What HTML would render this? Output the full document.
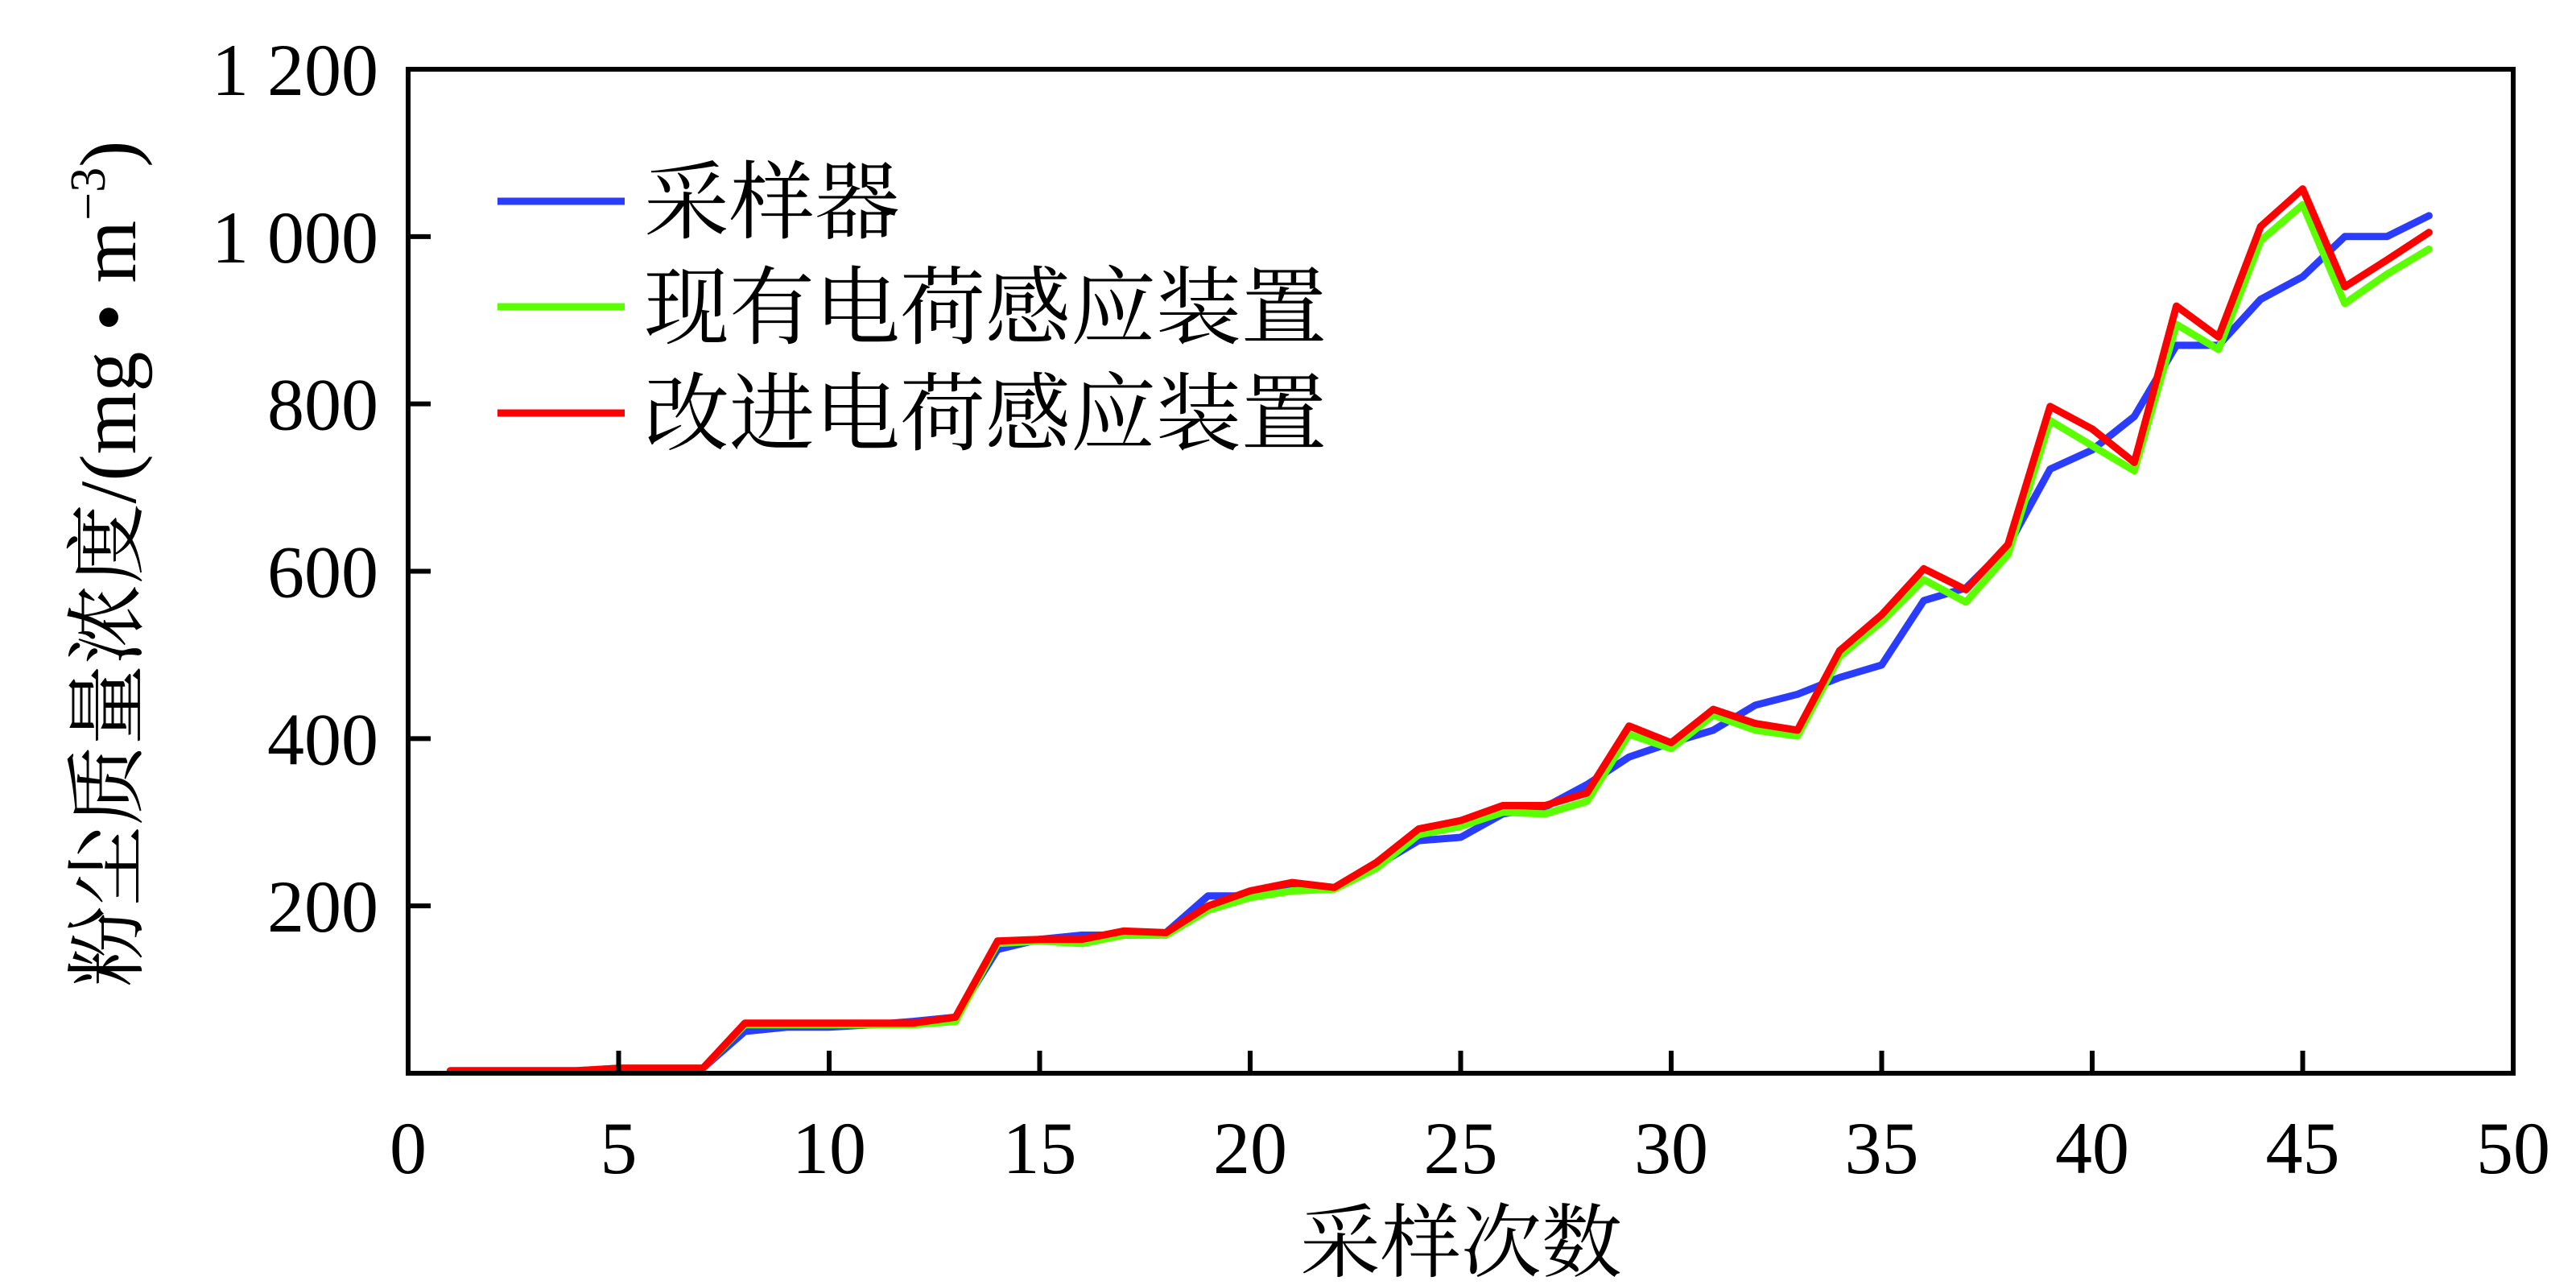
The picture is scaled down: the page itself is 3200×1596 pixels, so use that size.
<!DOCTYPE html>
<html><head><meta charset="utf-8"><style>
html,body{margin:0;padding:0;background:#fff}
svg{display:block}
text{font-family:"Liberation Serif","Noto Serif CJK SC","Noto Sans CJK SC",serif;fill:#000}
</style></head><body>
<svg id="chart" width="3200" height="1596" viewBox="0 0 3200 1596" xmlns="http://www.w3.org/2000/svg"></svg>
<script>
const xValues=[1,2,3,4,5,6,7,8,9,10,11,12,13,14,15,16,17,18,19,20,21,22,23,24,25,26,27,28,29,30,31,32,33,34,35,36,37,38,39,40,41,42,43,44,45,46,47,48];
const samplerValues=[3,3,3,3,6,6,6,50,55,55,58,62,67,148,160,165,165,168,212,212,222,222,248,278,282,310,318,345,378,395,410,440,453,473,488,565,580,630,722,745,785,870,870,925,952,1000,1000,1025];
const existingValues=[3,3,3,3,6,6,6,58,58,58,58,58,62,155,158,155,165,165,195,210,218,220,245,285,295,312,310,325,405,388,428,410,403,498,540,590,563,620,780,750,720,895,865,995,1038,920,955,985];
const improvedValues=[3,3,3,3,6,6,6,60,60,60,60,60,67,158,160,160,170,168,200,218,228,222,252,292,302,320,320,335,415,395,435,418,410,505,548,603,578,632,797,770,730,917,880,1012,1057,940,972,1005];
const xTicks=[0,5,10,15,20,25,30,35,40,45,50];
const yTicks=[200,400,600,800,1000];
const yTickLabels=["200","400","600","800","1 000"];
const seriesNames=["采样器","现有电荷感应装置","改进电荷感应装置"];
const seriesColors=["#2a3cff","#5cff00","#ff0000"];

const svg=document.getElementById('chart');
const NS='http://www.w3.org/2000/svg';
const L=507,R=3122,T=86,B=1333;
const xMin=0,xMax=50,yMin=0,yMax=1200;
function sx(v){return L+(v-xMin)/(xMax-xMin)*(R-L);}
function sy(v){return B-(v-yMin)/(yMax-yMin)*(B-T);}
function mk(tag,attrs,parent){const e=document.createElementNS(NS,tag);for(const k in attrs)e.setAttribute(k,attrs[k]);(parent||svg).appendChild(e);return e;}

// series
const allSeries=[samplerValues,existingValues,improvedValues];
const seriesKeys=['sampler-line','existing-device-line','improved-device-line'];
allSeries.forEach((vals,i)=>{
  const d=vals.map((v,j)=>(j?'L':'M')+sx(xValues[j]).toFixed(1)+' '+sy(v).toFixed(1)).join(' ');
  const p=mk('path',{d:d,fill:'none',stroke:seriesColors[i],'stroke-width':9,'stroke-linejoin':'round','stroke-linecap':'round'});
  
  
});

// frame
const frame=mk('rect',{x:L,y:T,width:R-L,height:B-T,fill:'none',stroke:'#000','stroke-width':6});



// x ticks
xTicks.forEach(v=>{
  if(v>xMin&&v<xMax){
    const t=mk('line',{x1:sx(v),x2:sx(v),y1:B,y2:B-28,stroke:'#000','stroke-width':6});
    
    
  }
  const tx=mk('text',{x:sx(v),y:1457,'font-size':92,'text-anchor':'middle'});
  tx.textContent=String(v);
  
  
});
// y ticks
yTicks.forEach((v,i)=>{
  const t=mk('line',{x1:L,x2:L+28,y1:sy(v),y2:sy(v),stroke:'#000','stroke-width':6});
  
  
  const tx=mk('text',{x:470,y:sy(v)+32,'font-size':92,'text-anchor':'end'});
  tx.textContent=yTickLabels[i];
  
  
});
const topLbl=mk('text',{x:470,y:T+32,'font-size':92,'text-anchor':'end'});
topLbl.textContent='1 200';



// axis titles
const xt=mk('text',{x:1815,y:1578,'font-size':100,'text-anchor':'middle'});
xt.textContent='采样次数';


const yt=mk('text',{x:0,y:0,'font-size':100,'text-anchor':'middle',transform:'translate(168,700) rotate(-90)'});
yt.innerHTML='粉尘质量浓度/(mg • m<tspan dy="-38" font-size="62">−3</tspan><tspan dy="38">)</tspan>';



// legend
const legY=[250,381,513];
seriesNames.forEach((n,i)=>{
  const g=mk('g',{});
  
  
  mk('line',{x1:618,x2:776,y1:legY[i],y2:legY[i],stroke:seriesColors[i],'stroke-width':9},g);
  const t=mk('text',{x:800,y:legY[i]+38,'font-size':106},g);
  t.textContent=n;
});
</script>
</body></html>
